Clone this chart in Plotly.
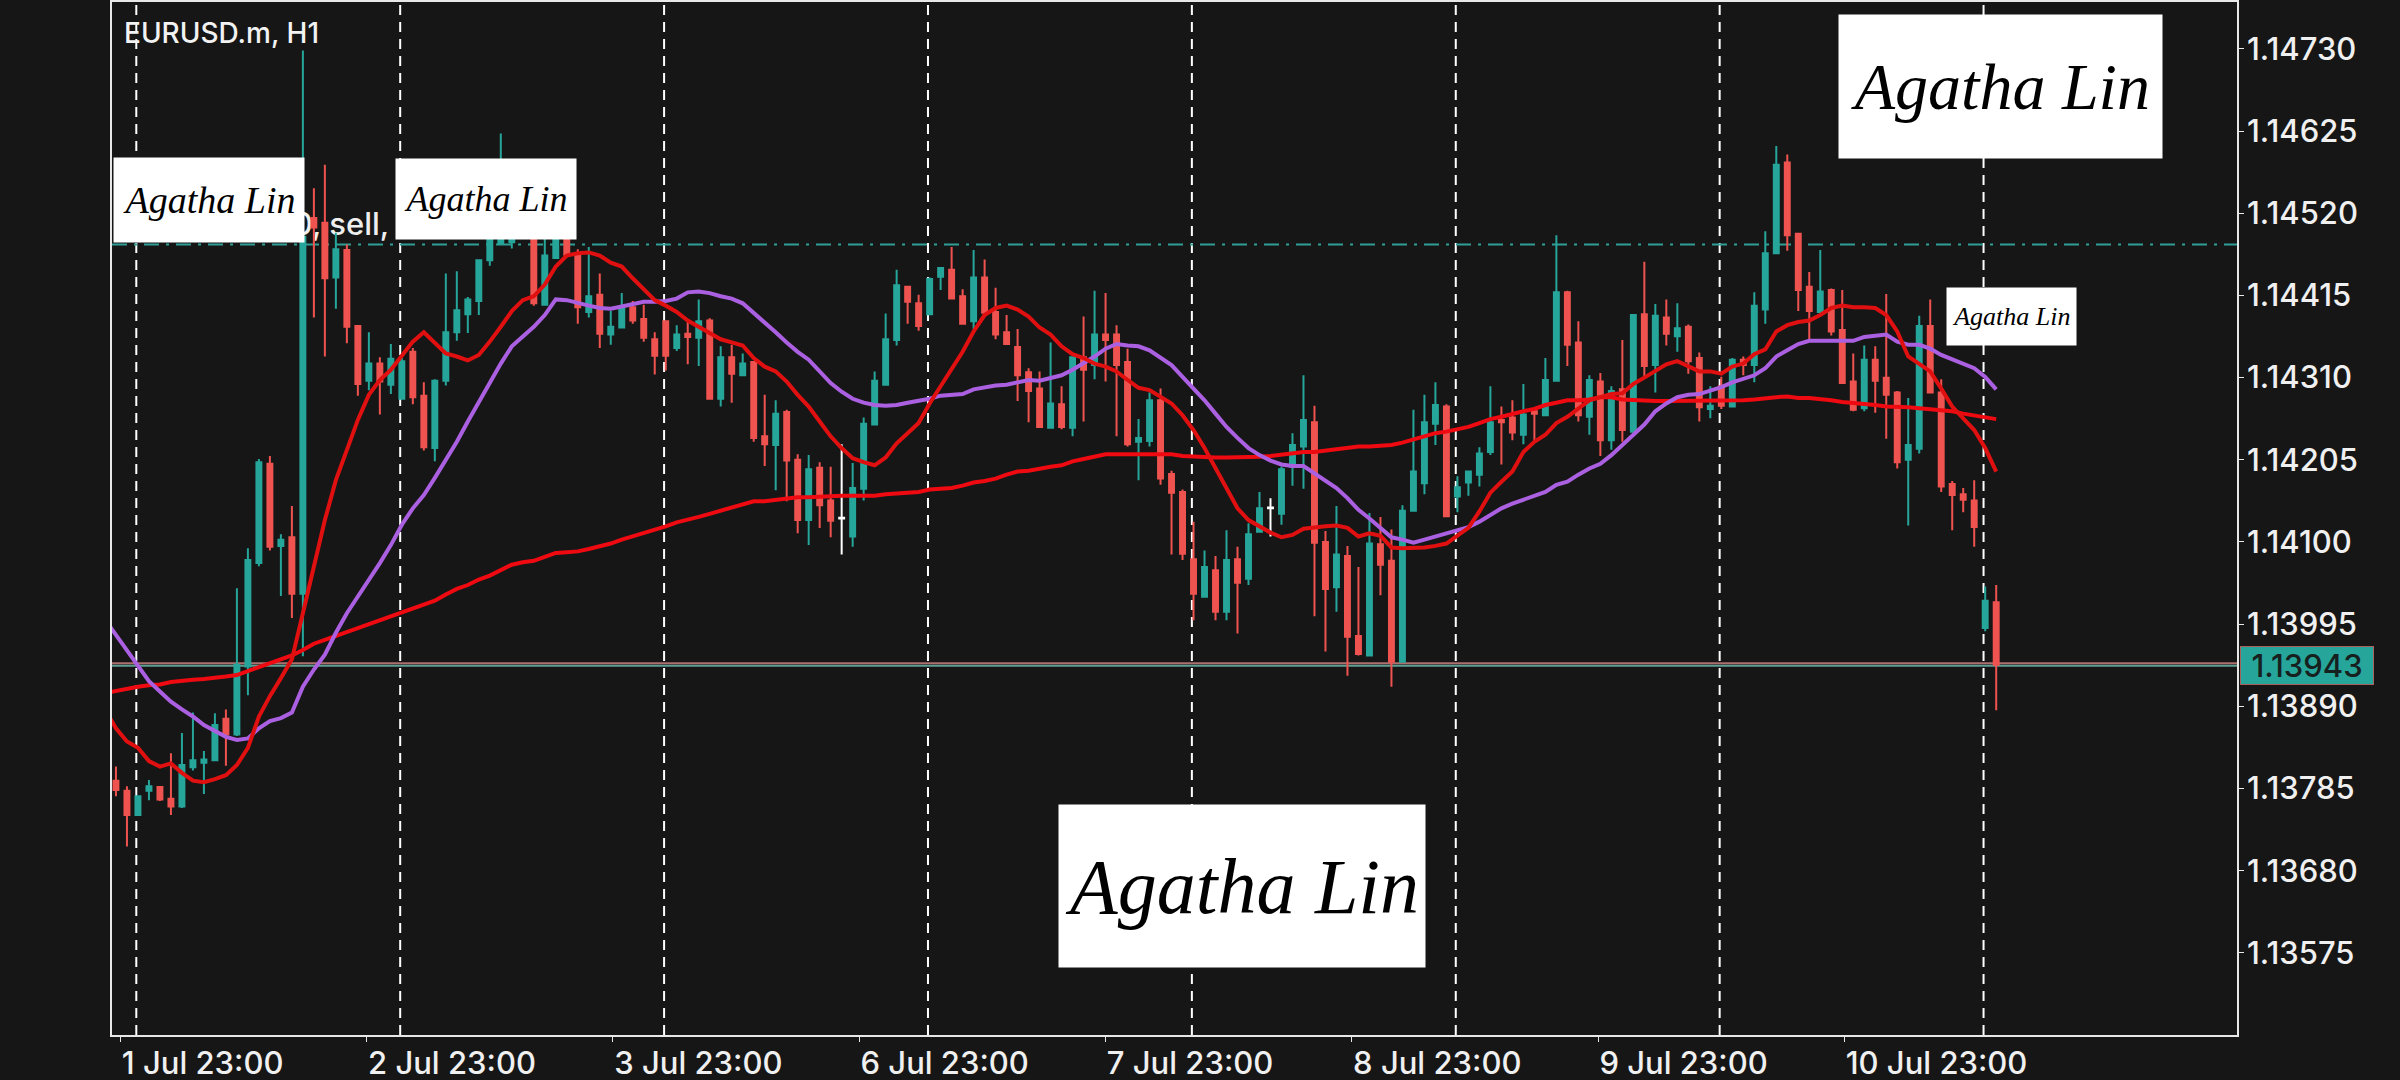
import numpy as np
import plotly.graph_objects as go

# EURUSD.m H1, valeurs (en points, 1 point = 0.00001)
POINT = 1e-5

opens = [
    113795, 113782, 113751, 113782, 113787, 113772, 113762, 113812, 113818, 113821,
    113874, 113854, 113941, 114073, 114200, 114095, 114106, 114034, 114514, 114508,
    114438, 114473, 114376, 114306, 114328, 114301, 114283, 114343, 114287, 114220,
    114306, 114368, 114391, 114408, 114460, 114481, 114483, 114503, 114550, 114403,
    114463, 114503, 114469, 114394, 114416, 114365, 114374, 114400, 114385, 114359,
    114382, 114348, 114366, 114361, 114383, 114283, 114336, 114313, 114330, 114235,
    114224, 114266, 114205, 114128, 114195, 114153, 114131, 114107, 114168, 114250,
    114301, 114358, 114426, 114405, 114391, 114439, 114448, 114414, 114382, 114438,
    114394, 114368, 114349, 114317, 114296, 114246, 114276, 114246, 114336, 114326,
    114365, 114365, 114330, 114228, 114229, 114281, 114187, 114164, 114078, 114030,
    114064, 114011, 114078, 114053, 114113, 114144, 114136, 114196, 114222, 114253,
    114100, 114042, 114082, 113980, 113955, 114097, 114076, 113947, 114140, 114175,
    114251, 114273, 114158, 114176, 114186, 114215, 114256, 114259, 114237, 114267,
    114262, 114306, 114419, 114355, 114260, 114305, 114230, 114295, 114241, 114391,
    114326, 114387, 114363, 114375, 114335, 114270, 114299, 114273, 114333, 114326,
    114397, 114469, 114585, 114494, 114426, 114394, 114422, 114371, 114305, 114271,
    114333, 114310, 114291, 114205, 114219, 114376, 114291, 114174, 114161, 114153,
    113990, 114023,
]
highs = [
    113813, 113788, 113775, 113796, 113788, 113830, 113856, 113882, 113833, 113881,
    113886, 114041, 114092, 114206, 114210, 114110, 114146, 114728, 114552, 114582,
    114495, 114480, 114376, 114368, 114336, 114353, 114335, 114348, 114304, 114308,
    114443, 114446, 114413, 114460, 114529, 114622, 114520, 114554, 114563, 114494,
    114512, 114516, 114474, 114477, 114443, 114395, 114418, 114408, 114403, 114368,
    114382, 114377, 114382, 114410, 114386, 114350, 114352, 114341, 114330, 114288,
    114281, 114269, 114212, 114211, 114202, 114196, 114225, 114201, 114259, 114318,
    114392, 114448, 114427, 114416, 114438, 114451, 114477, 114423, 114473, 114461,
    114425, 114390, 114372, 114322, 114318, 114355, 114299, 114337, 114388, 114421,
    114418, 114377, 114347, 114257, 114291, 114296, 114191, 114167, 114126, 114089,
    114082, 114115, 114094, 114124, 114164, 114156, 114196, 114239, 114313, 114274,
    114114, 114146, 114095, 114068, 114137, 114132, 114116, 114147, 114269, 114288,
    114304, 114276, 114184, 114190, 114221, 114299, 114273, 114281, 114302, 114269,
    114335, 114492, 114421, 114382, 114313, 114316, 114299, 114358, 114391, 114458,
    114404, 114410, 114405, 114378, 114342, 114299, 114311, 114335, 114337, 114419,
    114497, 114606, 114595, 114494, 114445, 114473, 114424, 114422, 114341, 114351,
    114350, 114417, 114293, 114284, 114389, 114410, 114308, 114178, 114169, 114179,
    114043, 114045,
]
lows = [
    113775, 113711, 113751, 113770, 113769, 113751, 113760, 113808, 113778, 113821,
    113814, 113852, 113904, 114069, 114089, 114031, 114003, 113954, 114387, 114337,
    114398, 114354, 114287, 114294, 114263, 114289, 114282, 114276, 114217, 114203,
    114300, 114357, 114367, 114390, 114453, 114481, 114475, 114495, 114402, 114403,
    114462, 114466, 114379, 114387, 114348, 114352, 114374, 114379, 114356, 114314,
    114319, 114344, 114327, 114325, 114283, 114273, 114278, 114313, 114228, 114197,
    114166, 114152, 114111, 114096, 114118, 114106, 114084, 114094, 114153, 114250,
    114300, 114351, 114379, 114370, 114390, 114422, 114411, 114379, 114372, 114393,
    114359, 114353, 114280, 114253, 114246, 114246, 114244, 114235, 114254, 114308,
    114305, 114235, 114222, 114179, 114222, 114173, 114084, 114077, 114000, 114030,
    114000, 114000, 113983, 114045, 114113, 114107, 114122, 114172, 114168, 114005,
    113960, 114011, 113929, 113955, 113955, 114032, 113915, 113947, 114140, 114161,
    114224, 114133, 114138, 114159, 114171, 114211, 114199, 114230, 114225, 114230,
    114262, 114306, 114325, 114254, 114237, 114210, 114218, 114228, 114241, 114311,
    114291, 114351, 114343, 114315, 114254, 114258, 114270, 114273, 114313, 114304,
    114379, 114469, 114472, 114395, 114358, 114394, 114364, 114303, 114267, 114267,
    114265, 114232, 114194, 114121, 114213, 114291, 114164, 114115, 114138, 114094,
    113986, 113885,
]
closes = [
    113783, 113751, 113775, 113788, 113771, 113762, 113815, 113821, 113822, 113866,
    113854, 113943, 114077, 114202, 114094, 114103, 114034, 114490, 114502, 114437,
    114474, 114375, 114302, 114328, 114305, 114334, 114331, 114285, 114221, 114306,
    114368, 114396, 114410, 114460, 114503, 114490, 114486, 114537, 114405, 114466,
    114503, 114467, 114400, 114414, 114366, 114375, 114400, 114383, 114361, 114338,
    114338, 114365, 114362, 114382, 114283, 114336, 114315, 114328, 114233, 114225,
    114264, 114204, 114128, 114193, 114147, 114127, 114130, 114169, 114251, 114306,
    114359, 114428, 114407, 114376, 114436, 114450, 114411, 114379, 114438, 114393,
    114365, 114353, 114313, 114293, 114247, 114277, 114247, 114336, 114320, 114365,
    114358, 114326, 114225, 114233, 114281, 114181, 114163, 114085, 114034, 114068,
    114011, 114077, 114048, 114110, 114143, 114143, 114193, 114224, 114256, 114099,
    114040, 114084, 113979, 113957, 114098, 114071, 113947, 114140, 114190, 114253,
    114275, 114133, 114170, 114190, 114213, 114253, 114253, 114240, 114263, 114264,
    114307, 114419, 114352, 114262, 114307, 114230, 114293, 114243, 114390, 114325,
    114389, 114366, 114373, 114331, 114272, 114274, 114274, 114333, 114326, 114402,
    114469, 114582, 114492, 114422, 114395, 114420, 114369, 114303, 114269, 114333,
    114306, 114288, 114202, 114224, 114376, 114291, 114171, 114160, 114154, 114119,
    114025, 113943,
]

# Moyennes mobiles : la premiere valeur est celle de la bougie juste avant le graphique
ma_fast = [
    113886,
    113862, 113845, 113837, 113820, 113813, 113817, 113805, 113795, 113793, 113797,
    113802, 113815, 113837, 113877, 113903, 113926, 113950, 114009, 114069, 114128,
    114179, 114218, 114256, 114288, 114307, 114320, 114339, 114356, 114368, 114354,
    114341, 114337, 114332, 114339, 114356, 114375, 114395, 114409, 114414, 114429,
    114452, 114466, 114469, 114470, 114466, 114457, 114452, 114437, 114423, 114409,
    114402, 114394, 114383, 114375, 114366, 114359, 114355, 114351, 114335, 114324,
    114318, 114305, 114288, 114273, 114254, 114235, 114220, 114207, 114202, 114198,
    114208, 114226, 114239, 114252, 114277, 114299, 114320, 114343, 114369, 114390,
    114399, 114402, 114397, 114388, 114374, 114365, 114350, 114340, 114335, 114328,
    114324, 114318, 114307, 114297, 114294, 114286, 114277, 114262, 114243, 114220,
    114194, 114167, 114143, 114128, 114120, 114112, 114106, 114109, 114117, 114119,
    114120, 114121, 114118, 114107, 114111, 114108, 114093, 114092, 114092, 114093,
    114095, 114098, 114108, 114118, 114139, 114163, 114177, 114190, 114215, 114228,
    114237, 114252, 114260, 114271, 114281, 114285, 114289, 114290, 114302, 114310,
    114319, 114327, 114331, 114324, 114318, 114318, 114315, 114324, 114328, 114340,
    114346, 114369, 114377, 114381, 114383, 114390, 114399, 114402, 114400, 114400,
    114399, 114390, 114369, 114337, 114328, 114318, 114296, 114273, 114258, 114243,
    114220, 114190,
]
ma_mid = [
    114001,
    113981, 113962, 113941, 113922, 113909, 113896, 113886, 113877, 113866, 113858,
    113851, 113847, 113849, 113862, 113871, 113875, 113882, 113915, 113937, 113956,
    113984, 114009, 114030, 114052, 114073, 114096, 114122, 114143, 114160, 114182,
    114205, 114228, 114254, 114279, 114303, 114328, 114350, 114362, 114375, 114390,
    114410, 114409, 114405, 114402, 114399, 114398, 114401, 114404, 114407, 114407,
    114408, 114411, 114419, 114420, 114418, 114414, 114411, 114405, 114393, 114380,
    114368, 114355, 114343, 114333, 114318, 114303, 114292, 114283, 114278, 114275,
    114274, 114275, 114278, 114280, 114283, 114287, 114288, 114289, 114295, 114298,
    114300, 114301, 114304, 114307, 114306, 114309, 114313, 114320, 114328, 114337,
    114347, 114353, 114351, 114350, 114345, 114335, 114326, 114311, 114296, 114281,
    114264, 114247, 114233, 114220, 114211, 114204, 114199, 114197, 114197, 114188,
    114179, 114169, 114156, 114141, 114130, 114118, 114106, 114103, 114099, 114103,
    114107, 114110, 114114, 114119, 114126, 114135, 114143, 114149, 114154, 114159,
    114164, 114173, 114177, 114186, 114194, 114200, 114211, 114224, 114237, 114250,
    114267, 114277, 114285, 114288, 114289, 114293, 114298, 114304, 114308, 114313,
    114322, 114337, 114345, 114353, 114357, 114357, 114357, 114358, 114357, 114362,
    114363, 114365, 114356, 114352, 114352, 114347, 114339, 114333, 114328, 114322,
    114311, 114295,
]
ma_slow = [
    113907,
    113910, 113912, 113915, 113917, 113918, 113921, 113923, 113924, 113925, 113926,
    113928, 113930, 113935, 113940, 113944, 113949, 113955, 113962, 113970, 113975,
    113980, 113986, 113991, 113996, 114001, 114006, 114010, 114016, 114021, 114025,
    114033, 114040, 114045, 114052, 114057, 114064, 114071, 114074, 114076, 114081,
    114086, 114087, 114088, 114091, 114094, 114098, 114103, 114107, 114111, 114115,
    114120, 114125, 114128, 114132, 114136, 114140, 114144, 114149, 114152, 114152,
    114154, 114155, 114157, 114157, 114158, 114158, 114159, 114159, 114159, 114159,
    114161, 114162, 114163, 114164, 114167, 114168, 114169, 114172, 114176, 114178,
    114181, 114186, 114190, 114191, 114194, 114196, 114198, 114203, 114206, 114209,
    114212, 114212, 114212, 114213, 114213, 114213, 114212, 114210, 114209, 114208,
    114208, 114208, 114208, 114209, 114209, 114210, 114212, 114213, 114215, 114215,
    114217, 114218, 114220, 114222, 114222, 114223, 114224, 114227, 114231, 114236,
    114239, 114241, 114244, 114247, 114252, 114257, 114260, 114264, 114267, 114270,
    114275, 114278, 114281, 114281, 114282, 114285, 114285, 114282, 114281, 114281,
    114280, 114280, 114280, 114281, 114281, 114281, 114281, 114280, 114281, 114282,
    114284, 114285, 114286, 114284, 114284, 114283, 114281, 114279, 114278, 114277,
    114275, 114273, 114273, 114272, 114271, 114270, 114269, 114267, 114264, 114262,
    114259, 114257,
]

# Bougies blanches (doji) tracees a part
white_bars = [66, 105]

price_ticks = [1.14730, 1.14625, 1.14520, 1.14415, 1.14310, 1.14205, 1.14100,
               1.13995, 1.13890, 1.13785, 1.13680, 1.13575]
time_ticks = [0.42, 22.81, 45.2, 67.6, 90.0, 112.4, 134.8, 157.2]
time_labels = ["1 Jul 23:00", "2 Jul 23:00", "3 Jul 23:00", "6 Jul 23:00",
               "7 Jul 23:00", "8 Jul 23:00", "9 Jul 23:00", "10 Jul 23:00"]
day_separators = [1.85, 25.85, 49.85, 73.85, 97.85, 121.85, 145.85, 169.85]
sell_level = 1.14480
bid_price = 1.13943
ask_price = 1.13945

# Zone de trace en pixels
LEFT, RIGHT, TOP, BOTTOM = 111.7, 2237.5, 2, 1035
BG = "#161616"
TEAL = "#26a69a"
RED = "#ef5350"


def paper_x(px):
    return (px - LEFT) / (RIGHT - LEFT)


def paper_y(px):
    return (BOTTOM - px) / (BOTTOM - TOP)


bars = np.arange(len(opens))
o = np.array(opens) * POINT
h = np.array(highs) * POINT
l = np.array(lows) * POINT
c = np.array(closes) * POINT
coloured = np.array([i not in white_bars for i in bars])

fig = go.Figure()

# Bougies
fig.add_trace(go.Candlestick(
    x=bars[coloured], open=o[coloured], high=h[coloured], low=l[coloured], close=c[coloured],
    increasing=dict(line=dict(color=TEAL, width=2), fillcolor=TEAL),
    decreasing=dict(line=dict(color=RED, width=2), fillcolor=RED),
    hoverinfo="skip",
))
fig.add_trace(go.Candlestick(
    x=bars[~coloured], open=o[~coloured], high=h[~coloured], low=l[~coloured], close=c[~coloured],
    increasing=dict(line=dict(color="white", width=2), fillcolor="white"),
    decreasing=dict(line=dict(color="white", width=2), fillcolor="white"),
    hoverinfo="skip",
))

# Moyennes mobiles
ma_bars = np.arange(-1, len(opens))
for values, color in [(ma_slow, "#ee0a10"), (ma_mid, "#ab60e2"), (ma_fast, "#e01010")]:
    fig.add_trace(go.Scatter(
        x=ma_bars, y=np.array(values) * POINT, mode="lines",
        line=dict(color=color, width=4), hoverinfo="skip",
    ))

# Separateurs de jours
for sep in day_separators:
    fig.add_shape(type="line", x0=sep, x1=sep, y0=0, y1=1, yref="paper", layer="below",
                  line=dict(color="white", width=2, dash="10px,7px"))

# Niveaux horizontaux
fig.add_shape(type="line", x0=0, x1=1, xref="paper", y0=sell_level, y1=sell_level, layer="below",
              line=dict(color="#2e9e96", width=2, dash="15px,7px,3px,7px"))
fig.add_shape(type="line", x0=0, x1=1, xref="paper", y0=ask_price, y1=ask_price, layer="below",
              line=dict(color="#ac716d", width=2))
fig.add_shape(type="line", x0=0, x1=1, xref="paper", y0=bid_price - 0.000012, y1=bid_price - 0.000012,
              layer="below", line=dict(color="#5f9e94", width=2))

# Texte de la position, sous les bougies et en partie cache par les encarts
fig.add_shape(type="rect", x0=15, x1=25.4, y0=1.14494, y1=1.14522, layer="below",
              line=dict(width=0), fillcolor="rgba(0,0,0,0)",
              label=dict(text="0, sell,", textposition="middle right",
                         font=dict(family="Inter", size=31, color="#eeeeee", weight=500)))

fig.add_annotation(text="EURUSD.m, H1", xref="paper", yref="paper",
                   x=paper_x(122), y=paper_y(33), xanchor="left", yanchor="middle", showarrow=False,
                   font=dict(family="Inter", size=28, color="#f2f2f2", weight=500))

# Etiquette du prix courant
fig.add_annotation(text="1.13943", xref="paper", yref="paper",
                   x=paper_x(2241), y=paper_y(665), xanchor="left", yanchor="middle", showarrow=False,
                   width=130, height=35, bgcolor=TEAL, bordercolor="#a8615c", borderwidth=1,
                   font=dict(family="Inter", size=31, color="#16211f", weight=500))

# Encarts de signature
for x0, x1, y0, y1, size in [(112.7, 303.7, 157, 240.7, 38),
                             (395, 576, 158, 237.7, 36),
                             (1838, 2161.7, 14, 156.5, 66),
                             (1946, 2075.7, 286.5, 343.2, 26),
                             (1058, 1425, 803.5, 965.5, 78)]:
    fig.add_annotation(text="Agatha Lin", xref="paper", yref="paper",
                       x=paper_x(x0), y=paper_y(y0), xanchor="left", yanchor="top", showarrow=False,
                       width=x1 - x0 - 3, height=y1 - y0 - 2, bgcolor="white",
                       font=dict(family="Liberation Serif", size=size, color="black", style="italic"))

axis_font = dict(family="Inter", size=31, color="#f0f0f0", weight=500)
fig.update_layout(
    width=2400,
    height=1080,
    margin=dict(l=LEFT, r=2400 - RIGHT, t=TOP, b=1080 - BOTTOM, autoexpand=False),
    paper_bgcolor=BG,
    plot_bgcolor=BG,
    showlegend=False,
    boxgap=0.36,
    xaxis=dict(
        range=[-0.36, 192.9],
        automargin=False,
        rangeslider=dict(visible=False),
        tickmode="array", tickvals=time_ticks, ticktext=time_labels,
        ticks="outside", ticklen=5, tickcolor="#e8e8e8", tickfont=axis_font,
        ticklabelposition="outside right",
        showgrid=False, zeroline=False,
        showline=True, mirror=True, linecolor="#e8e8e8", linewidth=1.5,
    ),
    yaxis=dict(
        range=[1.13470, 1.14790],
        automargin=False,
        side="right",
        tickmode="array", tickvals=price_ticks, tickformat=".5f",
        ticks="outside", ticklen=5, ticklabelstandoff=-3, tickcolor="#e8e8e8", tickfont=axis_font,
        showgrid=False, zeroline=False,
        showline=True, mirror=True, linecolor="#e8e8e8", linewidth=1.5,
    ),
)

fig.write_html("out.html", config={"displayModeBar": False},
               post_script="document.body.style.margin='0';document.body.style.overflow='hidden';")
